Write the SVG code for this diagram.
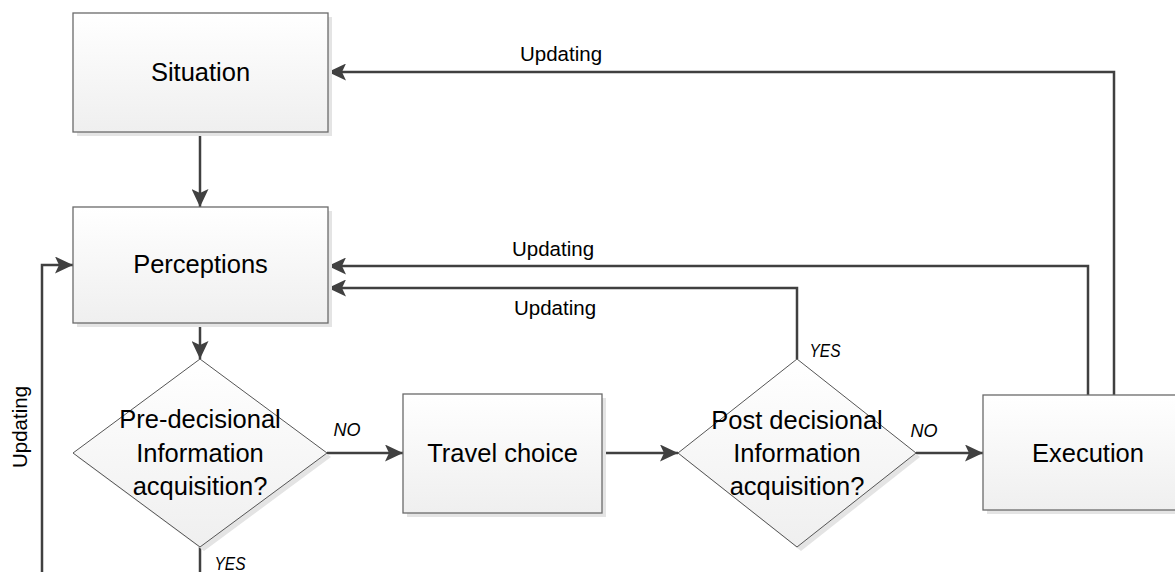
<svg xmlns="http://www.w3.org/2000/svg" width="1175" height="572" viewBox="0 0 1175 572">
  <style>
    .box { fill: url(#g); stroke: #6a6a6a; stroke-width: 1.3; }
    .dia { fill: url(#g); stroke: #555555; stroke-width: 1; }
    .sh { fill: #e4e4e4; }
    .t { font-family: "Liberation Sans", Arial, sans-serif; font-size: 25.5px; fill: #000; text-anchor: middle; }
    .lbl { font-family: "Liberation Sans", Arial, sans-serif; font-size: 20.5px; fill: #000; text-anchor: middle; }
    .yn { font-family: "Liberation Sans", Arial, sans-serif; font-size: 18px; font-style: italic; fill: #000; text-anchor: middle; }
    .c { fill: none; stroke: #404040; stroke-width: 2.5; marker-end: url(#a); }
  </style>
  <defs>
    <linearGradient id="g" x1="0" y1="0" x2="0" y2="1">
      <stop offset="0" stop-color="#ffffff"/>
      <stop offset="1" stop-color="#efefef"/>
    </linearGradient>
    <marker id="a" markerUnits="userSpaceOnUse" markerWidth="18" markerHeight="17" refX="18" refY="8.5" orient="auto">
      <path d="M0,0 L18,8.5 L0,17 L4,8.5 z" fill="#404040"/>
    </marker>
  </defs>
  <rect width="1175" height="572" fill="#ffffff"/>

  <g id="connectors">
    <path class="c" d="M200,132 V207"/>
    <path class="c" d="M200,323 V359"/>
    <path class="c" d="M327,453 H403"/>
    <path class="c" d="M602,453 H678"/>
    <path class="c" d="M916,453 H983"/>
    <path class="c" d="M797,359 V288 H328"/>
    <path class="c" d="M1088,395 V266 H328"/>
    <path class="c" d="M1114,395 V72 H328"/>
    <path class="c" d="M200,547 V600 H42 V265 H73"/>
    <text class="lbl" x="561" y="61">Updating</text>
    <text class="lbl" x="553" y="256">Updating</text>
    <text class="lbl" x="555" y="315">Updating</text>
    <text class="lbl" x="27" y="427" transform="rotate(-90 27 427)">Updating</text>
    <text class="yn" x="347" y="436">NO</text>
    <text class="yn" x="230" y="570" textLength="31" lengthAdjust="spacingAndGlyphs">YES</text>
    <text class="yn" x="825" y="357" textLength="31" lengthAdjust="spacingAndGlyphs">YES</text>
    <text class="yn" x="924" y="437">NO</text>
  </g>

  <g id="situation">
    <rect class="sh" x="77" y="17" width="255" height="119"/>
    <rect class="box" x="73" y="13" width="255" height="119"/>
    <text class="t" x="200.5" y="81">Situation</text>
  </g>

  <g id="perceptions">
    <rect class="sh" x="77" y="211" width="255" height="116"/>
    <rect class="box" x="73" y="207" width="255" height="116"/>
    <text class="t" x="200.5" y="273">Perceptions</text>
  </g>

  <g id="pre-decisional">
    <polygon class="sh" points="204,363 331,457 204,551 77,457"/>
    <polygon class="dia" points="200,359 327,453 200,547 73,453"/>
    <text class="t" x="200" y="428">Pre-decisional</text>
    <text class="t" x="200" y="461.5">Information</text>
    <text class="t" x="200" y="495">acquisition?</text>
  </g>

  <g id="travel-choice">
    <rect class="sh" x="407" y="398" width="199" height="119"/>
    <rect class="box" x="403" y="394" width="199" height="119"/>
    <text class="t" x="502.5" y="462">Travel choice</text>
  </g>

  <g id="post-decisional">
    <polygon class="sh" points="801,363 920,457 801,551 682,457"/>
    <polygon class="dia" points="797,359 916,453 797,547 678,453"/>
    <text class="t" x="797" y="428.5">Post decisional</text>
    <text class="t" x="797" y="462">Information</text>
    <text class="t" x="797" y="495">acquisition?</text>
  </g>

  <g id="execution">
    <rect class="sh" x="987" y="399" width="210" height="115"/>
    <rect class="box" x="983" y="395" width="210" height="115"/>
    <text class="t" x="1088" y="462">Execution</text>
  </g>
</svg>
